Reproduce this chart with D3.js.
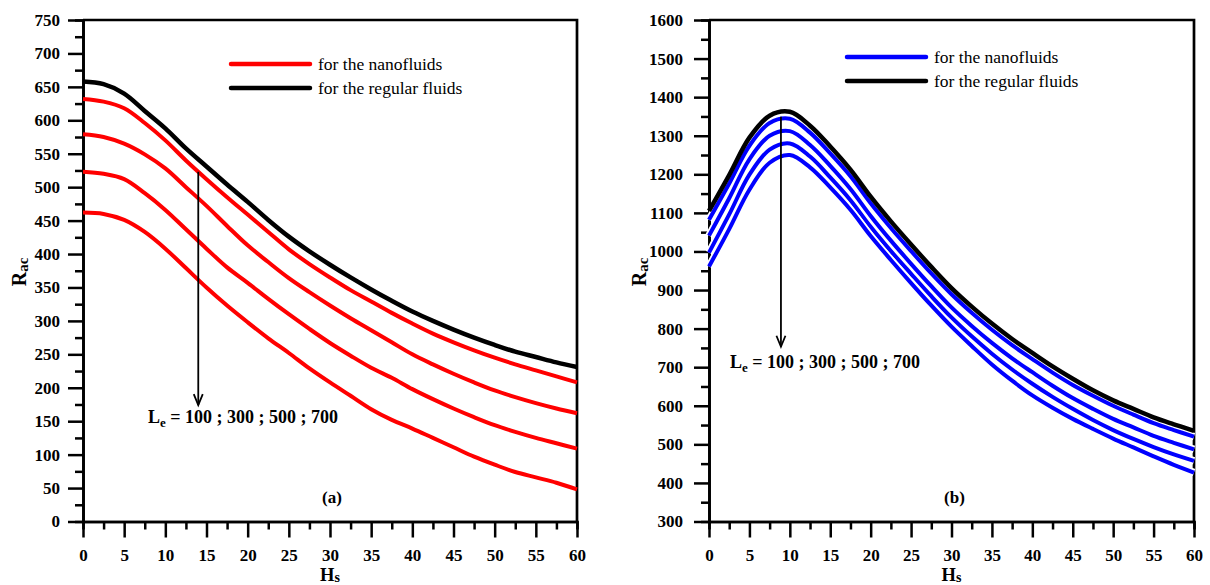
<!DOCTYPE html>
<html>
<head>
<meta charset="utf-8">
<script src="https://cdn.jsdelivr.net/npm/d3@7"></script>
<style>
  body { margin: 0; background: #fff; }
  svg { font-family: "Liberation Serif", "Times New Roman", serif; }
</style>
</head>
<body>
<script>
// H_s values shared by both panels
const hs = [0, 2.5, 5, 7.5, 10, 12.5, 15, 17.5, 20, 22.5, 25, 27.5, 30,
            32.5, 35, 37.5, 40, 42.5, 45, 47.5, 50, 52.5, 55, 57.5, 60];

// panel (a)
const aRegular = [658, 654, 640, 614, 588, 558, 531, 504, 478, 451, 426, 404, 384,
                  365, 347, 330, 314, 300, 287, 275, 264, 254, 246, 238, 231];
const aNano100 = [632, 628, 618, 596, 570, 540, 512, 485, 459, 433, 407, 385, 365,
                  346, 329, 312, 296, 281, 268, 256, 245, 235, 226, 217, 208];
const aNano300 = [579, 575, 565, 549, 528, 500, 472, 442, 413, 388, 364, 343, 323,
                  304, 286, 268, 250, 235, 221, 208, 196, 186, 177, 169, 162];
const aNano500 = [523, 520, 512, 491, 466, 437, 408, 380, 357, 333, 310, 288, 267,
                  248, 230, 215, 198, 183, 169, 156, 144, 134, 125, 117, 109];
const aNano700 = [462, 460, 451, 433, 408, 379, 350, 323, 298, 274, 252, 229, 208,
                  188, 168, 152, 139, 125, 111, 97, 85, 74, 66, 58, 48];

// panel (b)
const bRegular = [1105, 1198, 1295, 1352, 1362, 1326, 1272, 1212, 1142, 1078, 1018, 960, 905,
                  857, 813, 773, 737, 702, 670, 640, 614, 592, 570, 552, 535];
const bNano100 = [1082, 1176, 1274, 1333, 1344, 1308, 1254, 1195, 1125, 1061, 1001, 943, 889,
                  841, 797, 757, 721, 686, 654, 626, 600, 577, 555, 537, 520];
const bNano300 = [1041, 1138, 1239, 1300, 1312, 1276, 1222, 1162, 1092, 1028, 968, 910, 855,
                  807, 763, 723, 687, 652, 620, 592, 566, 544, 522, 504, 487];
const bNano500 = [997, 1096, 1199, 1264, 1280, 1246, 1192, 1133, 1064, 1001, 942, 884, 829,
                  780, 735, 694, 657, 623, 592, 563, 537, 514, 493, 474, 457];
const bNano700 = [961, 1058, 1160, 1230, 1250, 1218, 1166, 1108, 1040, 978, 918, 860, 805,
                  755, 707, 665, 627, 595, 566, 540, 515, 492, 469, 447, 427];

const xTicks = [0, 5, 10, 15, 20, 25, 30, 35, 40, 45, 50, 55, 60];
const aYTicks = [0, 50, 100, 150, 200, 250, 300, 350, 400, 450, 500, 550, 600, 650, 700, 750];
const bYTicks = [300, 400, 500, 600, 700, 800, 900, 1000, 1100, 1200, 1300, 1400, 1500, 1600];
const leText = " = 100 ; 300 ; 500 ; 700";

const svg = d3.select("body").append("svg")
  .attr("width", 1210)
  .attr("height", 585);

function panel(p) {
  const x = d3.scaleLinear().domain([0, 60]).range(p.xr);
  const y = d3.scaleLinear().domain(p.yd).range([521.5, 20]);
  const g = svg.append("g");

  // minor ticks
  const minorX = d3.range(0, 60.01, 2.5).filter(v => v % 5 !== 0);
  const minorY = d3.range(p.yd[0], p.yd[1] + 0.01, p.minor).filter(v => !p.yTicks.includes(v));
  g.append("g").attr("transform", "translate(0,521.5)")
    .call(d3.axisBottom(x).tickValues(minorX).tickSize(8).tickFormat(""));
  g.append("g").attr("transform", "translate(" + p.xr[0] + ",0)")
    .call(d3.axisLeft(y).tickValues(minorY).tickSize(8).tickFormat(""));

  // major ticks
  g.append("g").attr("transform", "translate(0,521.5)")
    .call(d3.axisBottom(x).tickValues(xTicks).tickSize(16).tickSizeOuter(0)
      .tickPadding(11).tickFormat(d3.format("d")));
  g.append("g").attr("transform", "translate(" + p.xr[0] + ",0)")
    .call(d3.axisLeft(y).tickValues(p.yTicks).tickSize(15).tickSizeOuter(0)
      .tickPadding(p.ypad).tickFormat(d3.format("d")));

  g.selectAll(".tick line").attr("stroke", "#000").attr("stroke-width", 2.5);
  g.selectAll(".domain").attr("stroke", "#000").attr("stroke-width", 2.7);
  g.selectAll(".tick text")
    .attr("fill", "#000")
    .style("font-family", '"Liberation Serif", "Times New Roman", serif')
    .style("font-size", "17px")
    .style("font-weight", "bold");

  // frame top + right
  g.append("path")
    .attr("d", "M" + p.xr[0] + ",20H" + p.xr[1] + "V521.5")
    .attr("fill", "none").attr("stroke", "#000").attr("stroke-width", 2.7);

  const line = d3.line()
    .x((d, i) => x(hs[i]))
    .y(d => y(d))
    .curve(d3.curveCatmullRom);

  const lines = g.append("g");
  p.nano.forEach(s => {
    if (p.halo) {
      lines.append("path").datum(s).attr("d", line).attr("fill", "none")
        .attr("stroke", "#fff").attr("stroke-width", 7.5);
    }
    lines.append("path").datum(s).attr("d", line).attr("fill", "none")
      .attr("stroke", p.color).attr("stroke-width", 4);
  });
  lines.append("path").datum(p.regular)
    .attr("d", line).attr("fill", "none")
    .attr("stroke", "#000").attr("stroke-width", 4.5);

  // legend
  const leg = [
    { c: p.color, t: "for the nanofluids" },
    { c: "#000", t: "for the regular fluids" }
  ];
  leg.forEach((l, i) => {
    const yy = p.leg[1] + i * p.legGap;
    g.append("line")
      .attr("x1", p.leg[0]).attr("x2", p.leg[0] + 79)
      .attr("y1", yy).attr("y2", yy)
      .attr("stroke", l.c).attr("stroke-width", 4.5).attr("stroke-linecap", "round");
    g.append("text")
      .attr("x", p.leg[0] + 87).attr("y", yy + 6)
      .style("font-size", "17.5px")
      .text(l.t);
  });

  // arrow + Le annotation
  const ax = x(p.arrow[0]);
  const y1 = y(p.arrow[1]), y2 = y(p.arrow[2]);
  g.append("path")
    .attr("d", "M" + ax + "," + y1 + "V" + y2)
    .attr("stroke", "#000").attr("stroke-width", 1.8).attr("fill", "none");
  g.append("path")
    .attr("d", "M" + (ax - 4.5) + "," + (y2 - 11) + "L" + ax + "," + y2 + "L" + (ax + 4.5) + "," + (y2 - 11))
    .attr("stroke", "#000").attr("stroke-width", 1.8).attr("fill", "none");
  const lt = g.append("text")
    .attr("x", x(p.label[0])).attr("y", y(p.label[1]))
    .style("font-size", "18px").style("font-weight", "bold");
  lt.append("tspan").text("L");
  lt.append("tspan").attr("dy", 4).style("font-size", "13px").text("e");
  lt.append("tspan").attr("dy", -4).text(leText);

  // panel tag
  g.append("text")
    .attr("x", (p.xr[0] + p.xr[1]) / 2 + p.tagDx).attr("y", 503)
    .attr("text-anchor", "middle")
    .style("font-size", "17px").style("font-weight", "bold")
    .text(p.tag);

  // axis titles
  const hx = g.append("text")
    .attr("x", (p.xr[0] + p.xr[1]) / 2).attr("y", 581)
    .attr("text-anchor", "middle")
    .style("font-size", "18.5px").style("font-weight", "bold");
  hx.append("tspan").text("H");
  hx.append("tspan").attr("dy", 1).style("font-size", "14px").text("s");

  const ry = g.append("text")
    .attr("transform", "translate(" + p.ryx + ",272) rotate(-90)")
    .attr("text-anchor", "middle")
    .style("font-size", "20px").style("font-weight", "bold");
  ry.append("tspan").text("R");
  ry.append("tspan").attr("dy", 2).style("font-size", "15px").text("ac");
}

panel({
  xr: [83, 577], yd: [0, 750], yTicks: aYTicks, minor: 25, ypad: 8,
  regular: aRegular, nano: [aNano100, aNano300, aNano500, aNano700],
  color: "#ff0000", halo: false,
  leg: [231, 64], legGap: 24,
  arrow: [14, 523, 174], label: [7.9, 147],
  tag: "(a)", tagDx: 2, ryx: 26
});

panel({
  xr: [709, 1194], yd: [300, 1600], yTicks: bYTicks, minor: 50, ypad: 11,
  regular: bRegular, nano: [bNano100, bNano300, bNano500, bNano700],
  color: "#0000ff", halo: true,
  leg: [847, 57], legGap: 24,
  arrow: [8.9, 1349, 753], label: [2.6, 699],
  tag: "(b)", tagDx: 3, ryx: 646
});
</script>
</body>
</html>
